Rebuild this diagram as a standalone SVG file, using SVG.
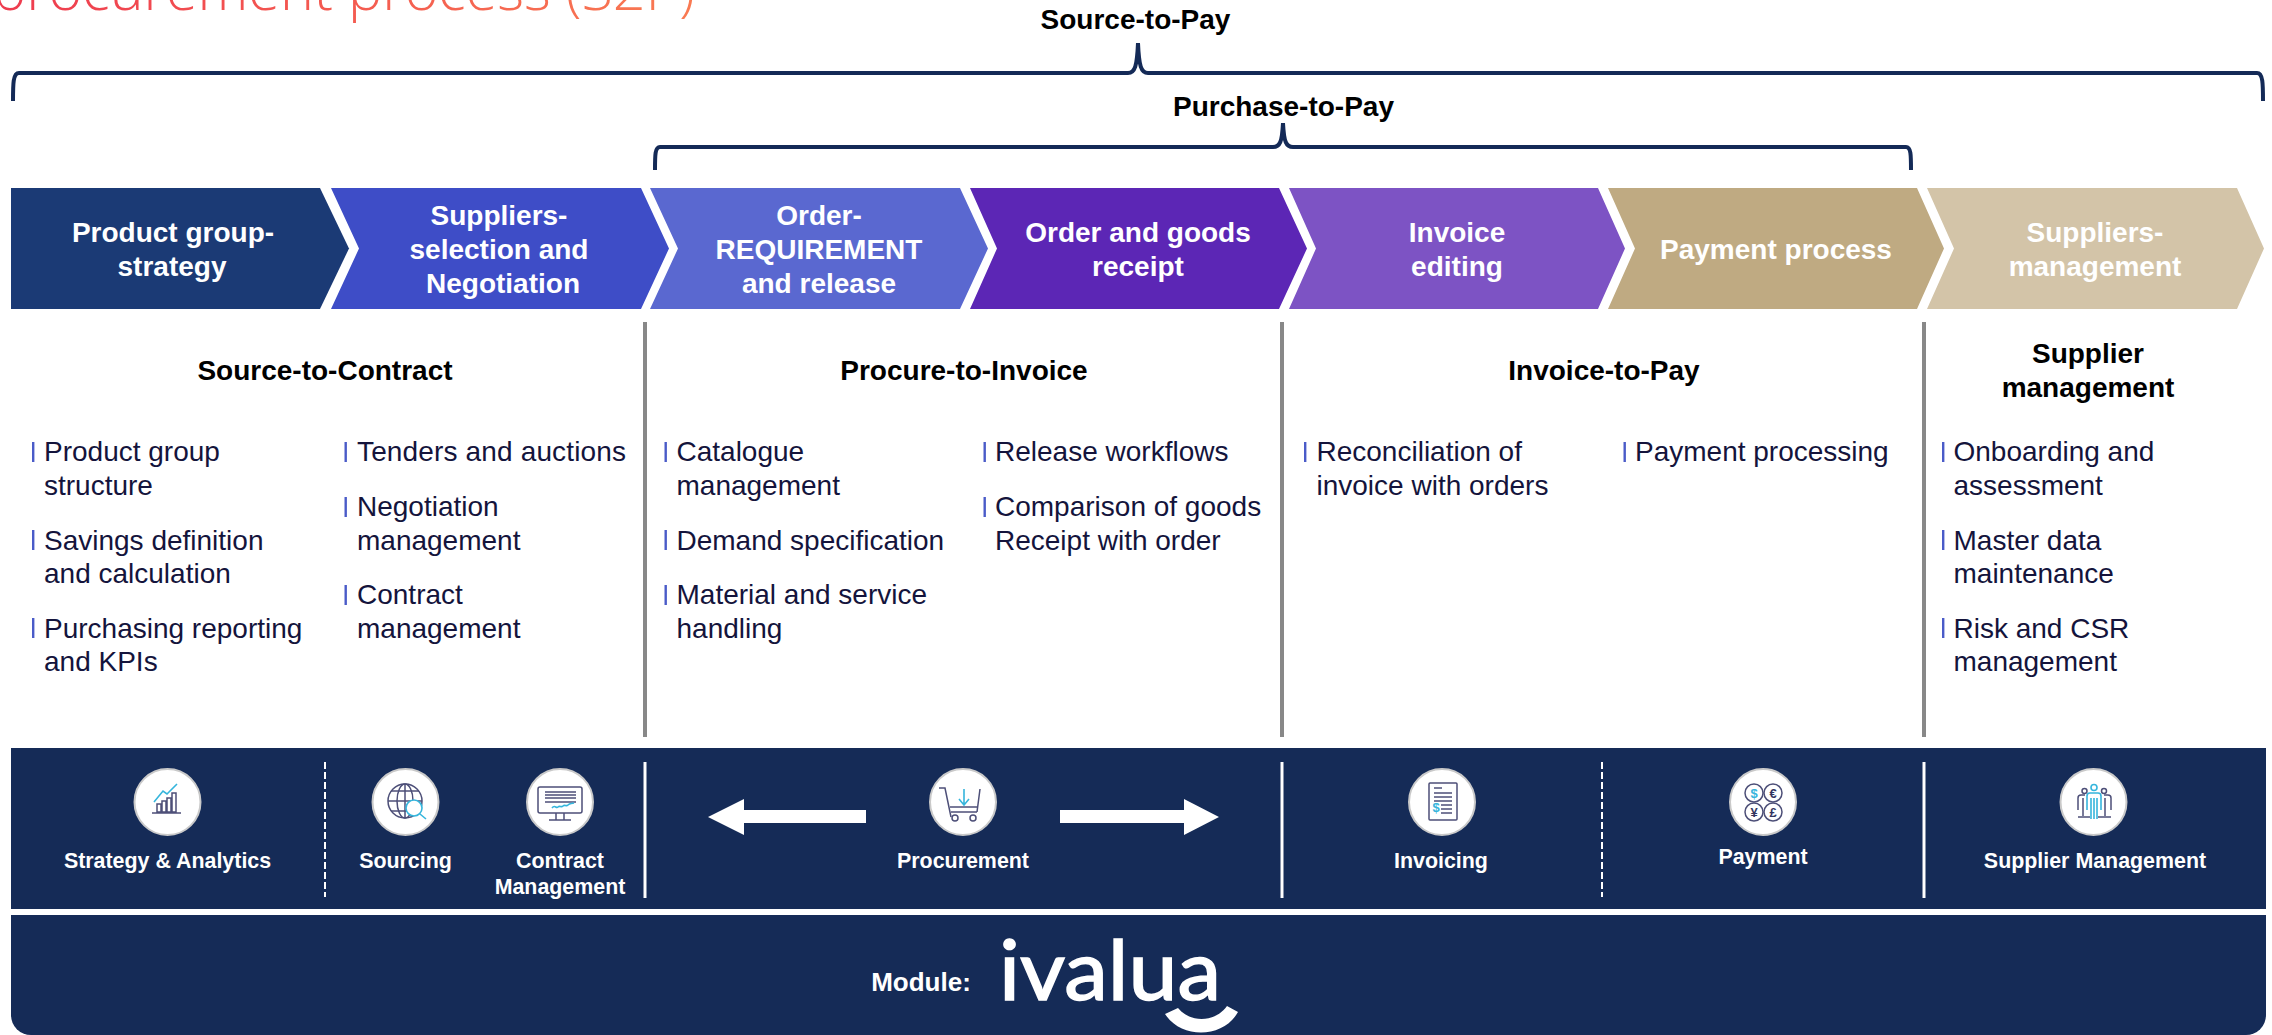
<svg xmlns="http://www.w3.org/2000/svg" width="2272" height="1035" viewBox="0 0 2272 1035">
<style>
text{font-family:"Liberation Sans",Arial,sans-serif}
.h{font-size:28px;font-weight:700;fill:#000;text-anchor:middle}
.c{font-size:28px;font-weight:700;fill:#fff;text-anchor:middle}
.b{font-size:28px;fill:#14143c}
.bar{fill:#4a5bc8}
.l{font-size:21.400px;font-weight:700;fill:#fff;text-anchor:middle}
.brace{fill:none;stroke:#142a57;stroke-width:4}
.sep{stroke:#888;stroke-width:4}
.w{stroke:#fff;stroke-width:3;fill:none}
.wd{stroke:#fff;stroke-width:2;stroke-dasharray:7 3;fill:none}
.ring{fill:#fff;stroke:#c9c9c9;stroke-width:2}
.i{fill:none;stroke:#4d4f78;stroke-width:1.5}
.a{fill:none;stroke:#35b5dc;stroke-width:1.6}
.s{font-size:13px;font-weight:700;fill:#33355f;text-anchor:middle}
</style>
<defs>
<linearGradient id="tg" x1="0" x2="1" y1="0" y2="0"><stop offset="0" stop-color="#ee3b4f"/><stop offset="1" stop-color="#f97a52"/></linearGradient>
<rect id="b1" class="bar" width="2.400" height="20"/>
</defs>
<rect width="2272" height="1035" fill="#fff"/>
<text id="title" x="-8" y="10" font-size="57.500" font-weight="300" style="font-family:'Open Sans',sans-serif" fill="url(#tg)">procurement process (S2P)</text>

<g id="connectors">
<path id="brace-s2p" class="brace" d="M13 101C13 84 13 73 19 73H1128C1135 73 1137 66 1138 43C1139 66 1141 73 1148 73H2257C2263 73 2263 84 2263 101"/>
<path id="brace-p2p" class="brace" d="M655 170C655 155 655 147 660 147H1273C1280 147 1282 142 1283 123C1284 142 1286 147 1293 147H1906C1911 147 1911 155 1911 170"/>
<line class="sep" x1="645" y1="322" x2="645" y2="737"/>
<line class="sep" x1="1282" y1="322" x2="1282" y2="737"/>
<line class="sep" x1="1924" y1="322" x2="1924" y2="737"/>
</g>

<g id="chevron-1"><path d="M11 188H320L349 248.500L320 309H11Z" fill="#1b3a75"/><text class="c" x="173" y="242">Product group-</text><text class="c" x="172" y="276">strategy</text></g>
<g id="chevron-2"><path d="M331 188H641L669 248.500L641 309H331L359 248.500Z" fill="#3e4dc7"/><text class="c" x="499" y="225">Suppliers-</text><text class="c" x="499" y="259">selection and</text><text class="c" x="503" y="293">Negotiation</text></g>
<g id="chevron-3"><path d="M650 188H960L988 248.500L960 309H650L678 248.500Z" fill="#5a68d0"/><text class="c" x="819" y="225">Order-</text><text class="c" x="819" y="259">REQUIREMENT</text><text class="c" x="819" y="293">and release</text></g>
<g id="chevron-4"><path d="M970 188H1279L1307 248.500L1279 309H970L997 248.500Z" fill="#5c26b5"/><text class="c" x="1138" y="242">Order and goods</text><text class="c" x="1138" y="276">receipt</text></g>
<g id="chevron-5"><path d="M1289 188H1598L1625 248.500L1598 309H1289L1316 248.500Z" fill="#7d53c4"/><text class="c" x="1457" y="242">Invoice</text><text class="c" x="1457" y="276">editing</text></g>
<g id="chevron-6"><path d="M1608 188H1917L1944 248.500L1917 309H1608L1635 248.500Z" fill="#bfaa82"/><text class="c" x="1776" y="259">Payment process</text></g>
<g id="chevron-7"><path d="M1927 188H2237L2264 248.500L2237 309H1927L1954 248.500Z" fill="#d3c4a8"/><text class="c" x="2095" y="242">Suppliers-</text><text class="c" x="2095" y="276">management</text></g>

<text id="label-s2p" class="h" x="1135.500" y="29">Source-to-Pay</text>
<text id="label-p2p" class="h" x="1283.500" y="116">Purchase-to-Pay</text>

<g id="col-source-to-contract">
<text class="h" x="325" y="380">Source-to-Contract</text>
<use href="#b1" x="32" y="442"/><text class="b" x="44" y="461">Product group</text><text class="b" x="44" y="495">structure</text>
<use href="#b1" x="32" y="530"/><text class="b" x="44" y="550">Savings definition</text><text class="b" x="44" y="583">and calculation</text>
<use href="#b1" x="32" y="618"/><text class="b" x="44" y="638">Purchasing reporting</text><text class="b" x="44" y="671">and KPIs</text>
<use href="#b1" x="344.500" y="442"/><text class="b" x="357" y="461" textLength="269">Tenders and auctions</text>
<use href="#b1" x="344.500" y="497"/><text class="b" x="357" y="516">Negotiation</text><text class="b" x="357" y="550">management</text>
<use href="#b1" x="344.500" y="585"/><text class="b" x="357" y="604">Contract</text><text class="b" x="357" y="638">management</text>
</g>
<g id="col-procure-to-invoice">
<text class="h" x="964" y="380">Procure-to-Invoice</text>
<use href="#b1" x="664.500" y="442"/><text class="b" x="676.500" y="461">Catalogue</text><text class="b" x="676.500" y="495">management</text>
<use href="#b1" x="664.500" y="530"/><text class="b" x="676.500" y="550">Demand specification</text>
<use href="#b1" x="664.500" y="585"/><text class="b" x="676.500" y="604">Material and service</text><text class="b" x="676.500" y="638">handling</text>
<use href="#b1" x="983.500" y="442"/><text class="b" x="995" y="461">Release workflows</text>
<use href="#b1" x="983.500" y="497"/><text class="b" x="995" y="516">Comparison of goods</text><text class="b" x="995" y="550">Receipt with order</text>
</g>
<g id="col-invoice-to-pay">
<text class="h" x="1604" y="380">Invoice-to-Pay</text>
<use href="#b1" x="1304" y="442"/><text class="b" x="1316.500" y="461">Reconciliation of</text><text class="b" x="1316.500" y="495">invoice with orders</text>
<use href="#b1" x="1623.500" y="442"/><text class="b" x="1635" y="461">Payment processing</text>
</g>
<g id="col-supplier-management">
<text class="h" x="2088" y="363">Supplier</text><text class="h" x="2088" y="397">management</text>
<use href="#b1" x="1942" y="442"/><text class="b" x="1953.500" y="461">Onboarding and</text><text class="b" x="1953.500" y="495">assessment</text>
<use href="#b1" x="1942" y="530"/><text class="b" x="1953.500" y="550">Master data</text><text class="b" x="1953.500" y="583">maintenance</text>
<use href="#b1" x="1942" y="618"/><text class="b" x="1953.500" y="638">Risk and CSR</text><text class="b" x="1953.500" y="671">management</text>
</g>

<g id="band-modules">
<rect x="11" y="748" width="2255" height="161" fill="#152b57"/>
<line class="wd" x1="325" y1="762" x2="325" y2="897"/>
<line class="w" x1="645" y1="762" x2="645" y2="898"/>
<line class="w" x1="1282" y1="762" x2="1282" y2="898"/>
<line class="wd" x1="1602" y1="762" x2="1602" y2="897"/>
<line class="w" x1="1924" y1="762" x2="1924" y2="898"/>
<path id="arrow-left" d="M708 817L744 799V810H866V823H744V835Z" fill="#fff"/>
<path id="arrow-right" d="M1219 817L1184 799V810H1060V823H1184V835Z" fill="#fff"/>
</g>

<g id="node-strategy">
<circle class="ring" cx="167.500" cy="802" r="33"/>
<path class="i" d="M157 804h4v8h-4zM162 801h4v11h-4zM167 798h4v14h-4zM172 793h4v19h-4zM152 813h29"/>
<path class="a" d="M154 802L163 791L167 794L177 784"/>
<text class="l" x="167.500" y="868">Strategy &amp; Analytics</text>
</g>
<g id="node-sourcing">
<circle class="ring" cx="405.500" cy="802" r="33"/>
<circle class="i" cx="405" cy="801" r="17"/><ellipse class="i" cx="405" cy="801" rx="8" ry="17"/><path class="i" d="M405 784v34M388 801h34M391 791h28M391 811h28"/>
<circle cx="414" cy="808" r="8" fill="#fff" stroke="#35b5dc" stroke-width="1.6"/><path class="a" d="M420 814L426 819"/>
<text class="l" x="405.500" y="868">Sourcing</text>
</g>
<g id="node-contract">
<circle class="ring" cx="560" cy="802" r="33"/>
<rect class="i" x="538" y="787" width="44" height="26" rx="2"/><path class="i" d="M545 792h31M545 795h31M545 798h31M545 802h31M556 813v7M564 813v7M549 820h22"/>
<path class="a" d="M552 808c3 -4 4 1 6 -1s3 1 5 -1s3 1 5 -1s3 -1 6 -2"/>
<text class="l" x="560" y="868">Contract</text><text class="l" x="560" y="894">Management</text>
</g>
<g id="node-procurement">
<circle class="ring" cx="963" cy="802" r="33"/>
<path class="i" d="M939 788h6L951 817M980 789L977 812M950 807h27M951 812h26"/>
<circle class="i" cx="955" cy="818" r="3"/><circle class="i" cx="973" cy="818" r="3"/>
<path class="a" d="M964 789V805M959 799L964 805L969 799"/>
<text class="l" x="963" y="868">Procurement</text>
</g>
<g id="node-invoicing">
<circle class="ring" cx="1442" cy="802" r="33"/>
<rect class="i" x="1429" y="783" width="28" height="37" rx="1"/><path class="i" d="M1434 788h8M1434 793h18M1434 797h18M1434 801h18M1441 805h11M1441 809h11M1441 813h11"/>
<text x="1436" y="812" font-size="13" font-weight="700" fill="#35b5dc" text-anchor="middle">$</text>
<text class="l" x="1441" y="868">Invoicing</text>
</g>
<g id="node-payment">
<circle class="ring" cx="1763" cy="802" r="33"/>
<circle class="i" cx="1754" cy="793" r="9"/><circle class="i" cx="1773" cy="793" r="9"/><circle class="i" cx="1754" cy="812" r="9"/><circle class="i" cx="1773" cy="812" r="9"/>
<text x="1754" y="798" font-size="13" font-weight="700" fill="#35b5dc" text-anchor="middle">$</text><text class="s" x="1773" y="798">€</text><text class="s" x="1754" y="817">¥</text><text class="s" x="1773" y="817">£</text>
<text class="l" x="1763" y="864">Payment</text>
</g>
<g id="node-supplier">
<circle class="ring" cx="2093.500" cy="802" r="33"/>
<circle class="i" cx="2084.500" cy="791" r="2.500"/><circle class="i" cx="2104" cy="791" r="2.500"/><circle class="a" cx="2094" cy="787.500" r="3"/>
<path class="i" d="M2078 810V798q0 -3 3 -3h4M2111 810V798q0 -3 -3 -3h-4M2083 798v18M2105 798v18M2078 817h12M2098 817h13"/>
<path class="a" d="M2087 810V796q0 -3 3 -3h8q3 0 3 3V810M2091 798v21M2094 798v21M2097 798v21"/>
<text class="l" x="2095" y="868">Supplier Management</text>
</g>

<g id="band-vendor">
<path d="M11 915H2266V1015A20 20 0 0 1 2246 1035H31A20 20 0 0 1 11 1015Z" fill="#152b57"/>
<text class="l" x="921" y="991" style="font-size:26px">Module:</text>
<text id="logo" x="999" y="1000" font-size="84" style="font-family:Lato,sans-serif" fill="#fff" stroke="#fff" stroke-width="1.500" textLength="222" lengthAdjust="spacingAndGlyphs">ivalua</text>
<path d="M1165 1014L1178 1008C1190 1023 1215 1023 1227 1006L1238 1012C1224 1038 1182 1040 1165 1014Z" fill="#fff"/>
</g>
</svg>
